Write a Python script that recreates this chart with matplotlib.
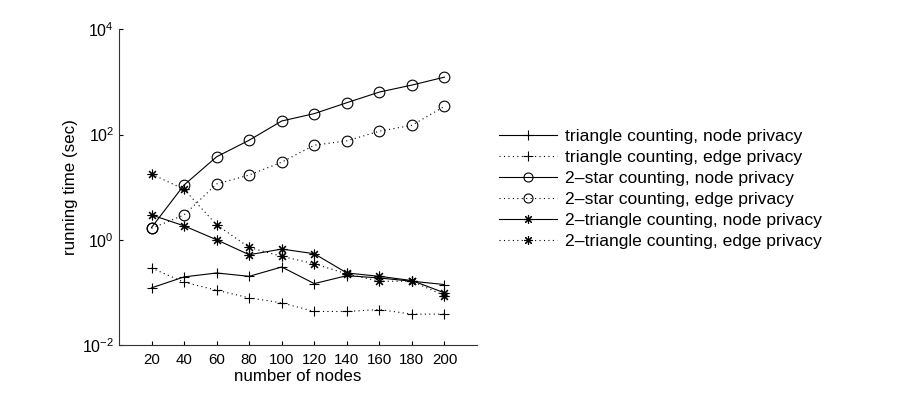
import matplotlib
matplotlib.use("Agg")
import matplotlib.pyplot as plt

plt.rcParams['font.family'] = ['Liberation Sans', 'DejaVu Sans']
plt.rcParams['mathtext.fontset'] = 'custom'
plt.rcParams['mathtext.rm'] = 'Liberation Sans'
plt.rcParams['mathtext.it'] = 'Liberation Sans:italic'
plt.rcParams['mathtext.bf'] = 'Liberation Sans:bold'

nodes = [20, 40, 60, 80, 100, 120, 140, 160, 180, 200]
tri_node = [0.122, 0.197, 0.234, 0.202, 0.304, 0.147, 0.208, 0.188, 0.163, 0.141]
tri_edge = [0.291, 0.156, 0.110, 0.0787, 0.0633, 0.0434, 0.0434, 0.0473, 0.0386, 0.0386]
star_node = [1.71, 11.0, 37.8, 78.1, 181, 250, 403, 642, 872, 1234]
star_edge = [1.65, 2.97, 11.5, 17.0, 29.9, 62.8, 75.9, 116, 150, 344]
tri2_node = [2.97, 1.84, 1.0, 0.52, 0.666, 0.543, 0.234, 0.202, 0.168, 0.098]
tri2_edge = [17.8, 9.1, 1.92, 0.716, 0.484, 0.351, 0.224, 0.163, 0.163, 0.087]
labels = ["triangle counting, node privacy", "triangle counting, edge privacy",
          "2\u2013star counting, node privacy", "2\u2013star counting, edge privacy",
          "2\u2013triangle counting, node privacy", "2\u2013triangle counting, edge privacy"]

fig = plt.figure(figsize=(9.13, 3.93), dpi=100)
ax = fig.add_axes([0.1303, 0.1221, 0.3922, 0.8033])

dot = (0, (1, 3))
ast = (8, 2, 0)
series = [
    (tri_node, '-', '+', 7.5),
    (tri_edge, dot, '+', 7.5),
    (star_node, '-', 'o', 7.7),
    (star_edge, dot, 'o', 7.7),
    (tri2_node, '-', ast, 7),
    (tri2_edge, dot, ast, 7),
]
for (vals, ls, mk, ms), lab in zip(series, labels):
    ax.plot(nodes, vals, color='black', linestyle=ls, linewidth=0.8,
            marker=mk, markersize=ms, markerfacecolor='none',
            markeredgecolor='black', markeredgewidth=0.8, label=lab)

ax.set_yscale('log')
ax.set_ylim(1e-2, 1e4)
ax.set_xlim(0, 220)
ax.set_xticks(nodes)
ax.set_yticks([1e-2, 1e0, 1e2, 1e4])
ax.minorticks_off()
ax.tick_params(axis='both', direction='in', length=3, labelsize=10.8, width=0.8)
ax.tick_params(axis='x', pad=6)
ax.tick_params(axis='y', labelsize=11.5)
for sp in ('left', 'bottom'):
    ax.spines[sp].set_linewidth(0.8)
    ax.spines[sp].set_color('#333333')
ax.spines['top'].set_visible(False)
ax.spines['right'].set_visible(False)
ax.set_xlabel("number of nodes", fontsize=12.2, labelpad=1)
ax.set_ylabel("running time (sec)", fontsize=12.2, labelpad=3)

leg = fig.legend(loc='center left', bbox_to_anchor=(0.5296, 0.520), frameon=False,
                 fontsize=12.6, handlelength=3.3, handletextpad=0.45, labelspacing=0.33)
for h in leg.legend_handles:
    h.set_markersize(6.5)

fig.savefig("out.png", dpi=100)
